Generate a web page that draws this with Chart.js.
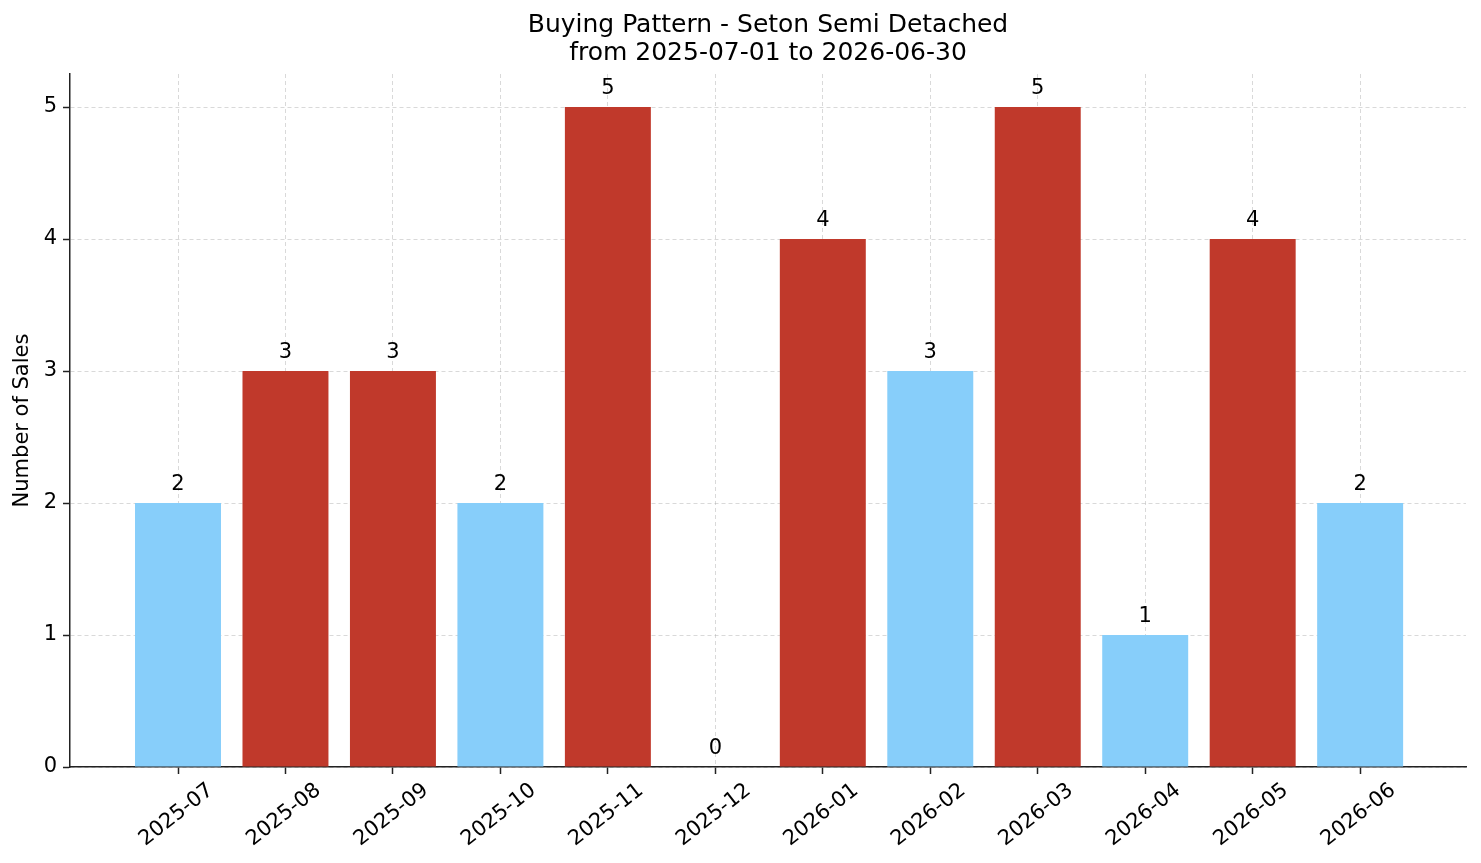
<!DOCTYPE html>
<html>
<head>
<meta charset="utf-8">
<script src="https://cdn.jsdelivr.net/npm/chart.js@4.4.1/dist/chart.umd.min.js"></script>
<style>
  html, body { margin: 0; padding: 0; background: #fff; }
  #wrap { width: 1481px; height: 863px; }
</style>
</head>
<body>
<div id="wrap"><canvas id="salesChart" width="1481" height="863"></canvas></div>
<script>
// Monthly sales counts
const months = ["2025-07", "2025-08", "2025-09", "2025-10", "2025-11", "2025-12",
  "2026-01", "2026-02", "2026-03", "2026-04", "2026-05", "2026-06"];
const sales = [2, 3, 3, 2, 5, 0, 4, 3, 5, 1, 4, 2];
// which months are highlighted (red) vs normal (blue)
const highlighted = [false, true, true, false, true, false, true, false, true, false, true, false];
const yTicks = [0, 1, 2, 3, 4, 5];

const RED = "#c0392b";
const BLUE = "#87cefa";
const GRID = "rgba(170, 170, 170, 0.45)";
const FONT = "'DejaVu Sans', sans-serif";

// value labels above each bar
const barLabels = {
  id: "barLabels",
  afterDatasetsDraw(chart) {
    const { ctx } = chart;
    const meta = chart.getDatasetMeta(0);
    ctx.save();
    ctx.font = "21px " + FONT;
    ctx.fillStyle = "#000";
    ctx.textAlign = "center";
    ctx.textBaseline = "alphabetic";
    meta.data.forEach((bar, i) => {
      ctx.fillText(String(sales[i]), bar.x, bar.y - 13);
    });
    ctx.restore();
  },
};

const ctx = document.getElementById("salesChart").getContext("2d");
new Chart(ctx, {
  type: "bar",
  data: {
    datasets: [
      {
        label: "Number of Sales",
        data: sales.map((v, i) => ({ x: i, y: v })),
        backgroundColor: highlighted.map((h) => (h ? RED : BLUE)),
        borderWidth: 0,
        barPercentage: 0.8,
        categoryPercentage: 1.0,
      },
    ],
  },
  options: {
    responsive: false,
    animation: false,
    layout: { padding: { left: 0, right: 15, top: 0, bottom: 0 } },
    plugins: {
      legend: { display: false },
      tooltip: { enabled: false },
      title: {
        display: true,
        fullSize: false,
        text: ["Buying Pattern - Seton Semi Detached", "from 2025-07-01 to 2026-06-30"],
        color: "#000",
        font: { family: FONT, size: 25, weight: "normal", lineHeight: 1.13 },
        padding: { top: 11, bottom: 6.5 },
      },
    },
    scales: {
      x: {
        type: "linear",
        min: -1.005,
        max: 11.985,
        offset: false,
        z: 1,
        afterBuildTicks: (scale) => {
          scale.ticks = months.map((_, i) => ({ value: i }));
        },
        afterFit: (scale) => {
          scale.height = 96;
        },
        ticks: {
          autoSkip: false,
          minRotation: 38,
          maxRotation: 38,
          labelOffset: 33,
          padding: 4,
          color: "#000",
          font: { family: FONT, size: 21 },
          callback: (v) => months[v],
        },
        grid: {
          offset: false,
          color: GRID,
          lineWidth: 1,
          drawTicks: true,
          tickLength: 7,
          tickColor: "#222",
          tickWidth: 1.5,
        },
        border: { display: true, color: "#222", width: 1.5, dash: [4, 3] },
      },
      y: {
        min: 0,
        max: 5.25,
        z: 1,
        afterBuildTicks: (scale) => {
          scale.ticks = yTicks.map((v) => ({ value: v }));
        },
        afterFit: (scale) => {
          scale.width = 70;
        },
        ticks: {
          padding: 6,
          color: "#000",
          font: { family: FONT, size: 21 },
        },
        title: {
          display: true,
          text: "Number of Sales",
          color: "#000",
          font: { family: FONT, size: 21 },
          padding: { top: 10, bottom: 0 },
        },
        grid: {
          color: GRID,
          lineWidth: 1,
          drawTicks: true,
          tickLength: 7,
          tickColor: "#222",
          tickWidth: 1.5,
        },
        border: { display: true, color: "#222", width: 1.5, dash: [4, 3] },
      },
    },
  },
  plugins: [barLabels],
});
</script>
</body>
</html>
